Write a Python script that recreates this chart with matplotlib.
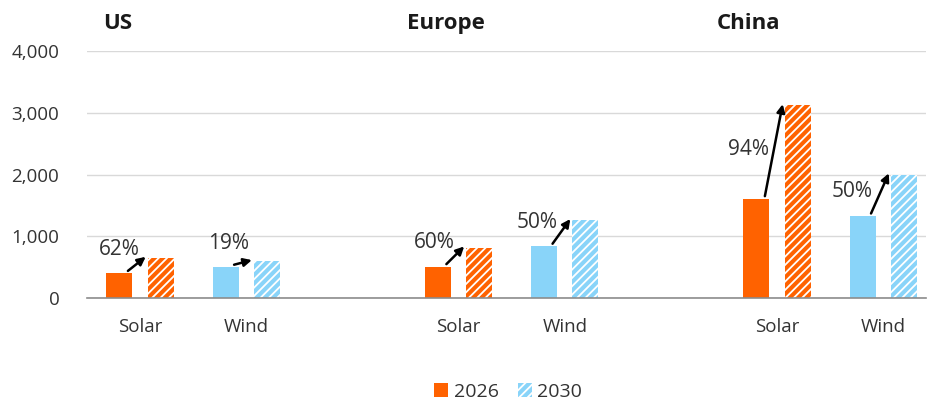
import matplotlib.pyplot as plt
from matplotlib.patches import Patch

plt.rcParams['font.family'] = ['Open Sans', 'DejaVu Sans']
plt.rcParams['hatch.linewidth'] = 1.3

# Installed capacity (GW) by region and technology
regions = ['US', 'Europe', 'China']
techs = ['Solar', 'Wind']
cap_2026 = [400, 500, 510, 840, 1610, 1330]
cap_2030 = [648, 595, 816, 1260, 3120, 2000]
growth = ['62%', '19%', '60%', '50%', '94%', '50%']
tech_colors = ['#FF6200', '#89D4F9']

# slot positions: two technologies per region, one empty slot between regions
slots = [0, 1, 3, 4, 6, 7]
off = 0.195
w = 0.245

fig = plt.figure(figsize=(9.36, 4.05), dpi=100)
ax = fig.add_axes([0.093, 0.264, 0.896, 0.61])

for i, x in enumerate(slots):
    c = tech_colors[i % 2]
    ax.bar(x - off, cap_2026[i], width=w, color=c, linewidth=0)
    ax.bar(x + off, cap_2030[i], width=w, facecolor=c, edgecolor='white',
           hatch='////', linewidth=0)
    # growth arrow from the 2026 bar to the 2030 bar
    x0 = x - off + 0.08
    y0 = cap_2026[i] + 40
    x1 = x + off - w / 2 - 0.02
    y1 = cap_2030[i] + 20
    ax.annotate('', xy=(x1, y1), xytext=(x0, y0),
                arrowprops=dict(arrowstyle='-|>', lw=1.8, color='black',
                                mutation_scale=12, shrinkA=0, shrinkB=0))
    # label sits just left of the arrow shaft
    ty = max((cap_2026[i] + cap_2030[i]) / 2 + 40, cap_2026[i] + 390)
    t = min(max((ty - 160 - y0) / (y1 - y0), 0), 1)
    xr = x0 + t * (x1 - x0) - 0.03
    ax.text(xr, ty, growth[i], ha='right', va='center', fontsize=15,
            color='#333333')

ax.set_xlim(-0.5, 7.4)
ax.set_ylim(0, 4000)
ax.set_yticks(range(0, 4001, 1000))
ax.set_yticklabels([f'{v:,}' for v in range(0, 4001, 1000)])
ax.set_xticks(slots)
ax.set_xticklabels(techs * 3)
ax.tick_params(axis='both', length=0, labelsize=13.5, colors='#333333')
ax.tick_params(axis='y', pad=20)
ax.tick_params(axis='x', pad=14)
ax.grid(axis='y', color='#d9d9d9', lw=1)
ax.set_axisbelow(True)
for s in ['top', 'right', 'left']:
    ax.spines[s].set_visible(False)
ax.spines['bottom'].set_color('#8c8c8c')
ax.spines['bottom'].set_linewidth(1.2)

title_x = [-0.35, 2.51, 5.43]
for name, tx in zip(regions, title_x):
    ax.text(tx, 4450, name, ha='left', va='center', fontsize=16,
            fontweight='bold', color='#1a1a1a')

handles = [Patch(facecolor=tech_colors[0], linewidth=0),
           Patch(facecolor=tech_colors[1], edgecolor='white', hatch='////',
                 linewidth=0)]
fig.legend(handles, ['2026', '2030'], loc='center', bbox_to_anchor=(0.543, 0.032),
           ncol=2, frameon=False, fontsize=14, handlelength=0.7,
           handleheight=0.7, handletextpad=0.3, columnspacing=1.0,
           labelcolor='#333333')

fig.savefig('out.png', dpi=100)
